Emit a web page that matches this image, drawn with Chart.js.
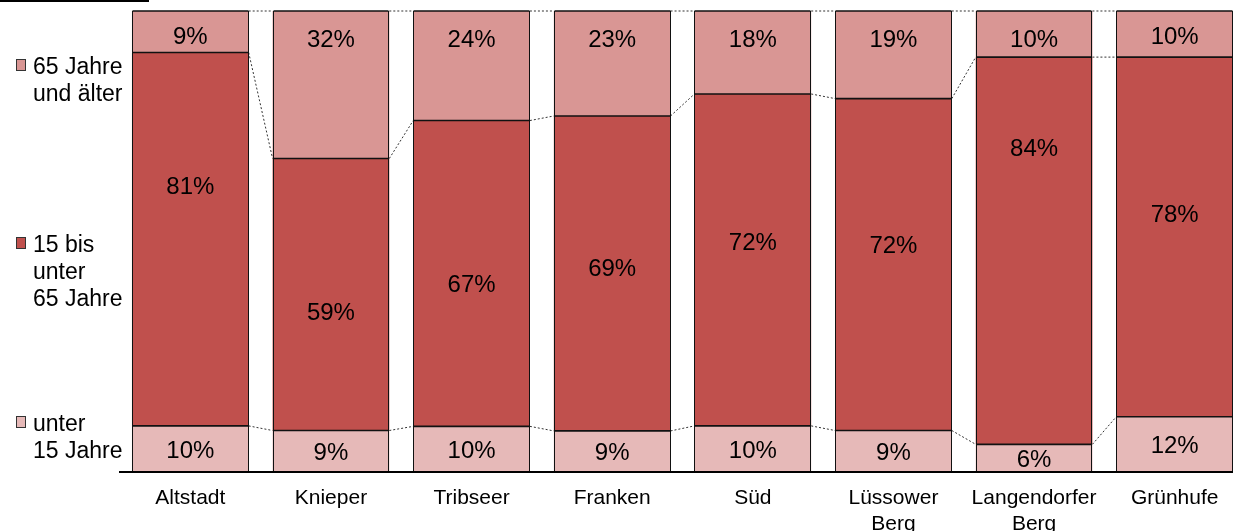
<!DOCTYPE html>
<html>
<head>
<meta charset="utf-8">
<script src="https://cdn.jsdelivr.net/npm/chart.js@4"></script>
<style>
  body { margin: 0; overflow: hidden; background: #fff; }
  #wrap { position: relative; width: 1245px; height: 531px; }
</style>
</head>
<body>
<div id="wrap"><canvas id="chart"></canvas></div>
<script>
// ================= DATA =================
const districts = [["Altstadt"], ["Knieper"], ["Tribseer"], ["Franken"], ["Süd"], ["Lüssower", "Berg"], ["Langendorfer", "Berg"], ["Grünhufe"]];
const under15 = [10, 9, 10, 9, 10, 9, 6, 12];
const age15to65 = [81, 59, 67, 69, 72, 72, 84, 78];
const age65plus = [9, 32, 24, 23, 18, 19, 10, 10];

const seriesNames = [["unter", "15 Jahre"], ["15 bis", "unter", "65 Jahre"], ["65 Jahre", "und älter"]];
const colors = ["#E6B9B8", "#C0504D", "#D99694"];

// where the labels sit (in % on the y axis), as in the original
const midLabelAt = [61.9, 34.7, 40.8, 44.2, 49.9, 49.2, 70.3, 55.9];
const topLabelAt = [94.6, 93.9, 93.9, 93.9, 93.9, 93.9, 93.9, 94.4];

const FONT = "'Liberation Sans', Arial, sans-serif";

// shares of 100% (rounded values sum to 101 sometimes)
const totals = under15.map((v, i) => v + age15to65[i] + age65plus[i]);
const share = arr => arr.map((v, i) => v / totals[i] * 100);
const raw = [under15, age15to65, age65plus];

// ================= PLUGIN =================
const extras = {
  id: "extras",
  afterDatasetsDraw(chart) {
    const ctx = chart.ctx;
    const y = chart.scales.y;
    const metas = [0, 1, 2].map(d => chart.getDatasetMeta(d).data);

    // dotted connectors between bars
    ctx.save();
    ctx.strokeStyle = "#333";
    ctx.lineWidth = 1;
    ctx.setLineDash([2, 2]);
    for (let i = 0; i < districts.length - 1; i++) {
      for (let d = 0; d < 3; d++) {
        const a = metas[d][i], b = metas[d][i + 1];
        ctx.beginPath();
        ctx.moveTo(a.x + a.width / 2, a.y);
        ctx.lineTo(b.x - b.width / 2, b.y);
        ctx.stroke();
      }
    }
    ctx.restore();

    // segment outlines
    ctx.save();
    ctx.strokeStyle = "#111";
    for (let i = 0; i < districts.length; i++) {
      const b0 = metas[0][i];
      const l = Math.round(b0.x - b0.width / 2) + 0.5;
      const r = Math.round(b0.x + b0.width / 2) - 0.5;
      const top = metas[2][i].y;
      ctx.lineWidth = 1;
      ctx.beginPath();
      ctx.moveTo(l, b0.base); ctx.lineTo(l, top);
      ctx.moveTo(r, b0.base); ctx.lineTo(r, top);
      ctx.stroke();
      ctx.lineWidth = 1.6;
      ctx.beginPath();
      for (let d = 0; d < 3; d++) {
        const yy = metas[d][i].y;
        ctx.moveTo(l, yy); ctx.lineTo(r, yy);
      }
      ctx.stroke();
    }
    ctx.restore();

    // axis line over the bar bottoms
    const area = chart.chartArea;
    ctx.save();
    ctx.strokeStyle = "#000";
    ctx.lineWidth = 2;
    ctx.beginPath();
    ctx.moveTo(area.left, area.bottom);
    ctx.lineTo(area.right, area.bottom);
    ctx.stroke();
    ctx.restore();

    // value labels
    ctx.save();
    ctx.fillStyle = "#000";
    ctx.font = "24px " + FONT;
    ctx.textAlign = "center";
    ctx.textBaseline = "middle";
    for (let i = 0; i < districts.length; i++) {
      const b0 = metas[0][i];
      ctx.fillText(under15[i] + "%", b0.x, (b0.y + b0.base) / 2 + 2);
      ctx.fillText(age15to65[i] + "%", b0.x, y.getPixelForValue(midLabelAt[i]) + 1);
      ctx.fillText(age65plus[i] + "%", b0.x, y.getPixelForValue(topLabelAt[i]) + 1);
    }
    ctx.restore();

    // legend on the left
    ctx.save();
    ctx.font = "23px " + FONT;
    ctx.textAlign = "left";
    ctx.textBaseline = "alphabetic";
    const baselines = [431, 252, 74];
    for (let s = 0; s < 3; s++) {
      const by = baselines[s];
      ctx.fillStyle = colors[s];
      ctx.fillRect(16.5, by - 14.5, 9, 11);
      ctx.strokeStyle = "#333";
      ctx.lineWidth = 1;
      ctx.strokeRect(16.5, by - 14.5, 9, 11);
      ctx.fillStyle = "#000";
      seriesNames[s].forEach((line, k) => ctx.fillText(line, 33, by + k * 27));
    }
    ctx.restore();

    // black stroke top left
    ctx.fillStyle = "#000";
    ctx.fillRect(0, 0, 149, 2);
  }
};

// ================= CHART =================
new Chart(document.getElementById("chart"), {
  type: "bar",
  data: {
    labels: districts,
    datasets: [0, 1, 2].map(d => ({
      label: seriesNames[d].join(" "),
      data: share(raw[d]),
      backgroundColor: colors[d],
      borderWidth: 0,
      categoryPercentage: 1,
      barPercentage: 0.83
    }))
  },
  options: {
    responsive: true,
    maintainAspectRatio: false,
    animation: false,
    events: [],
    layout: { padding: { left: 120, top: 11, right: 0, bottom: 0 } },
    plugins: { legend: { display: false }, tooltip: { enabled: false } },
    scales: {
      x: {
        stacked: true,
        grid: { display: false, drawTicks: false },
        border: { display: true, color: "#000", width: 2 },
        ticks: { color: "#000", font: { family: FONT, size: 21, lineHeight: 1.2 }, padding: 14, maxRotation: 0, autoSkip: false },
        afterFit(scale) { scale.height = 59; }
      },
      y: {
        stacked: true,
        display: false,
        min: 0,
        max: 100
      }
    }
  },
  plugins: [extras]
});
</script>
</body>
</html>
